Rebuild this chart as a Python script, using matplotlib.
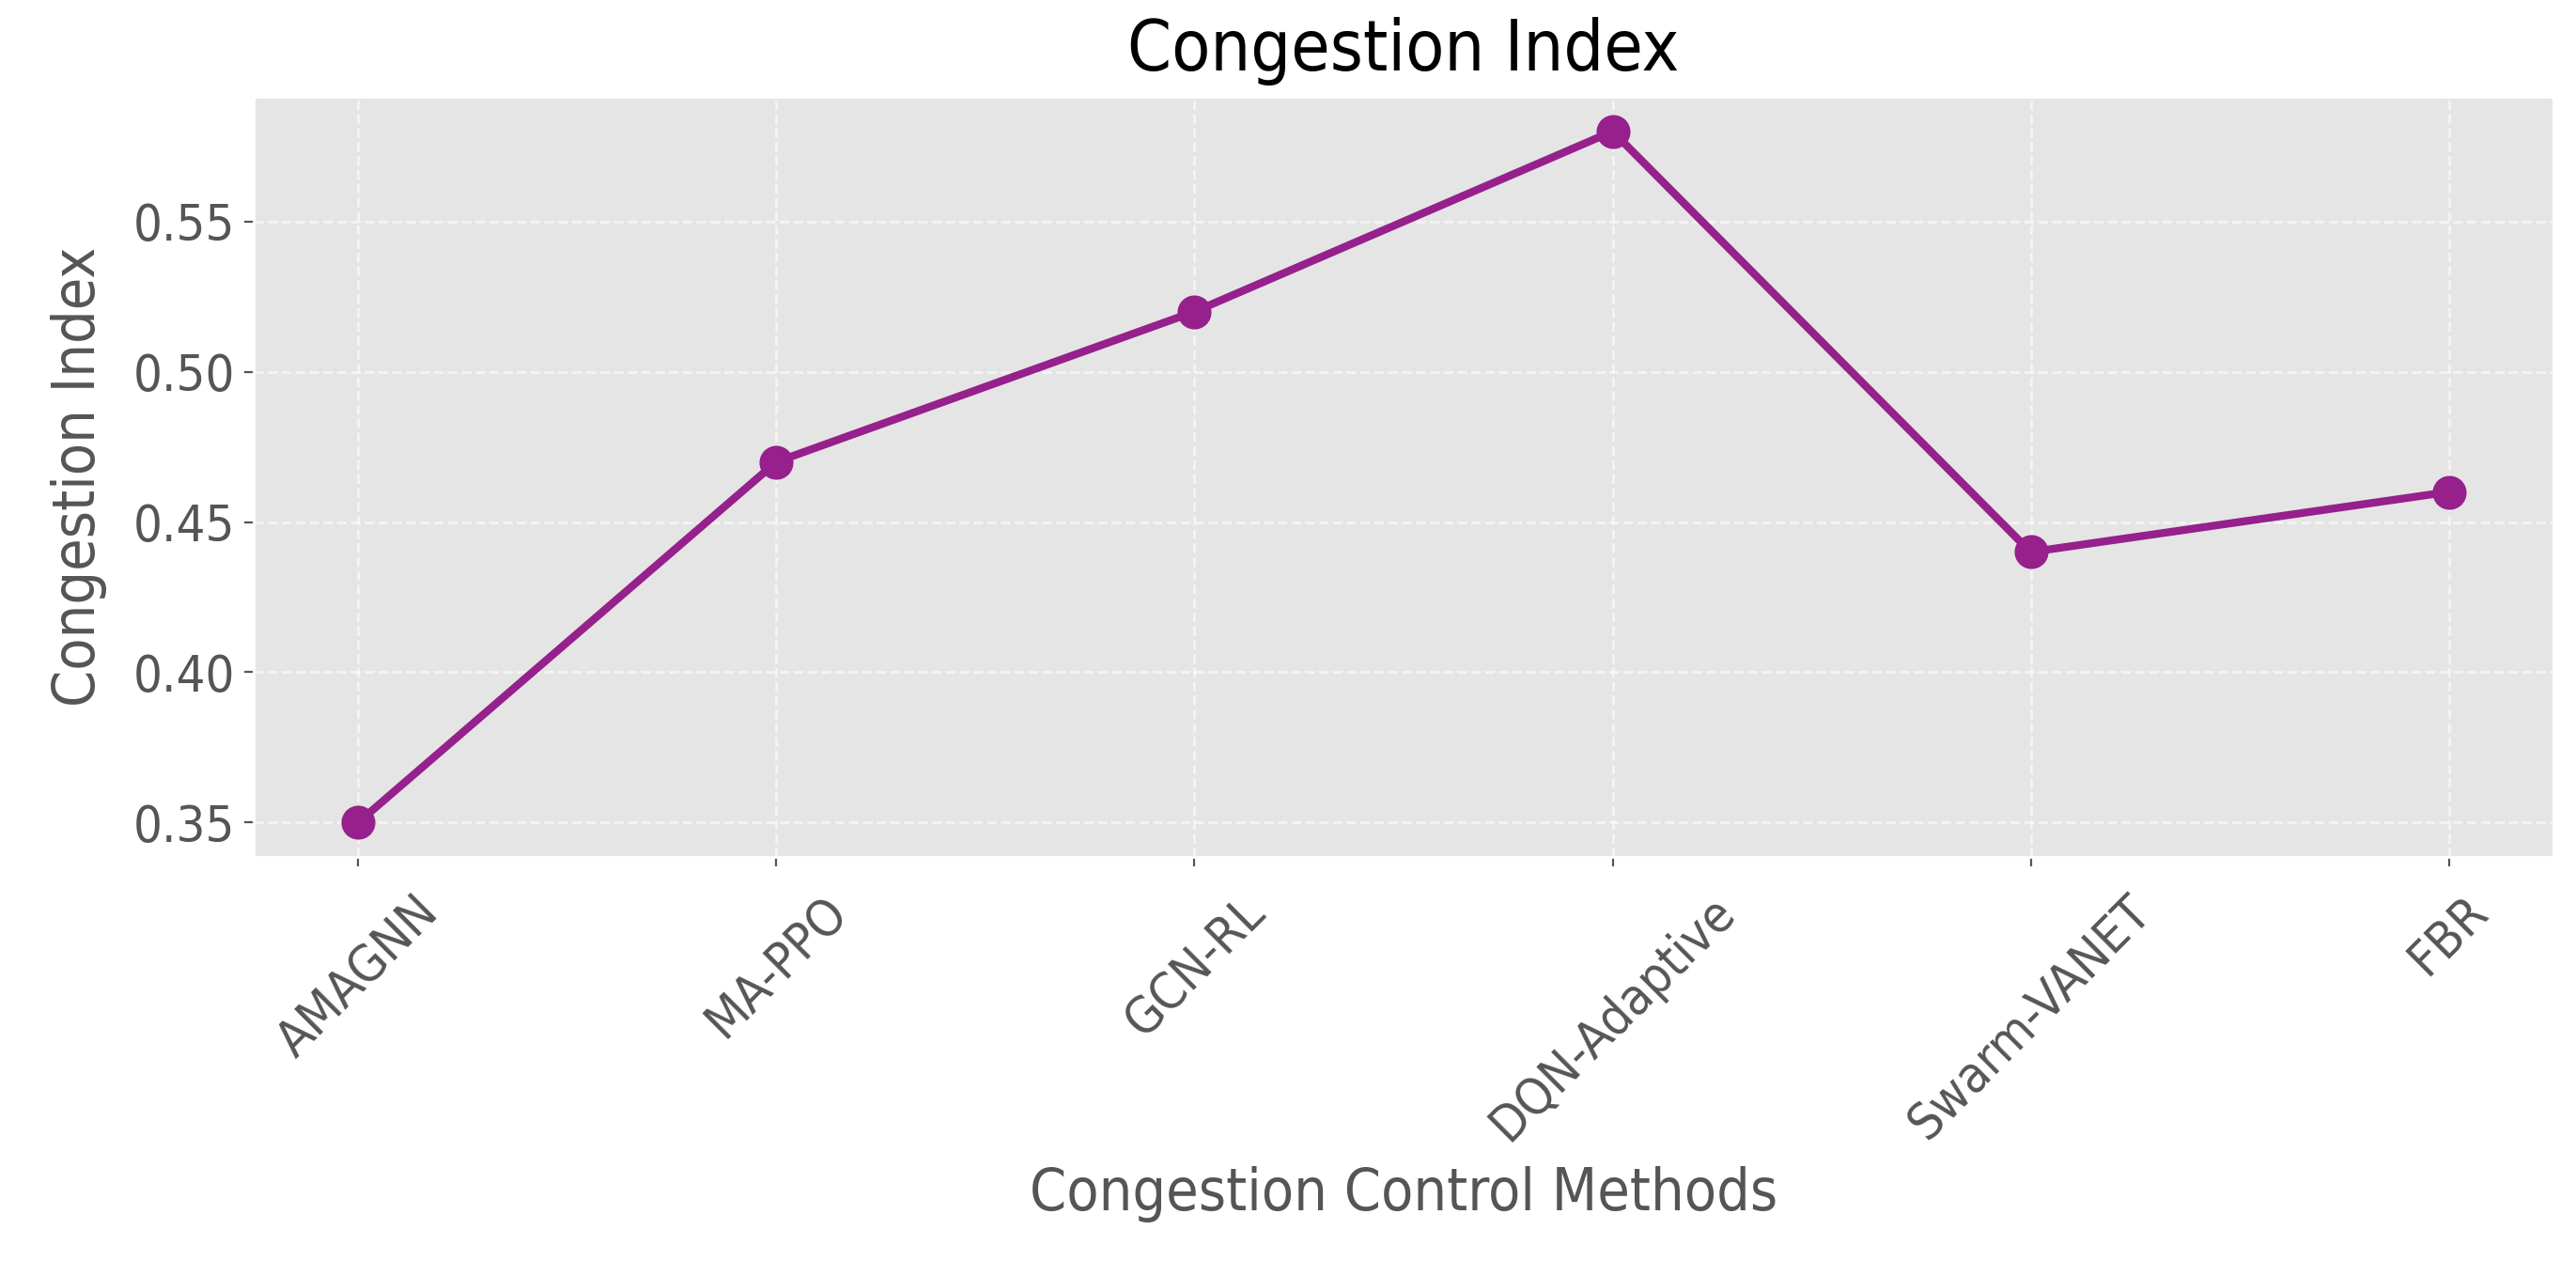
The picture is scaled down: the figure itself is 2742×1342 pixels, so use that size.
import matplotlib
matplotlib.use("Agg")
import matplotlib.pyplot as plt

methods = ["AMAGNN", "MA-PPO", "GCN-RL", "DQN-Adaptive", "Swarm-VANET", "FBR"]
congestion = [0.35, 0.47, 0.52, 0.58, 0.44, 0.46]

plt.style.use("ggplot")
plt.rcParams["font.family"] = ["DejaVu Sans"]
plt.rcParams["font.stretch"] = "condensed"
plt.rcParams["font.size"] = 18.7

fig, ax = plt.subplots(figsize=(13.71, 6.71), dpi=200)
fig.subplots_adjust(left=0.0985, right=0.9912, bottom=0.3204, top=0.9232)

ax.plot(methods, congestion, marker="o", color="#96208C", linewidth=3, markersize=12)

ax.set_title("Congestion Index", color="black", fontsize=27, pad=10)
ax.set_xlabel("Congestion Control Methods", fontsize=22.5, labelpad=6)
ax.set_ylabel("Congestion Index", fontsize=22.5, labelpad=10)
ax.tick_params(axis="both", labelsize=19.5)
ax.tick_params(axis="x", rotation=45, pad=8)
ax.grid(True, linestyle="--", color="white", alpha=0.6, linewidth=1.0)

fig.savefig("out.png", dpi=200)
